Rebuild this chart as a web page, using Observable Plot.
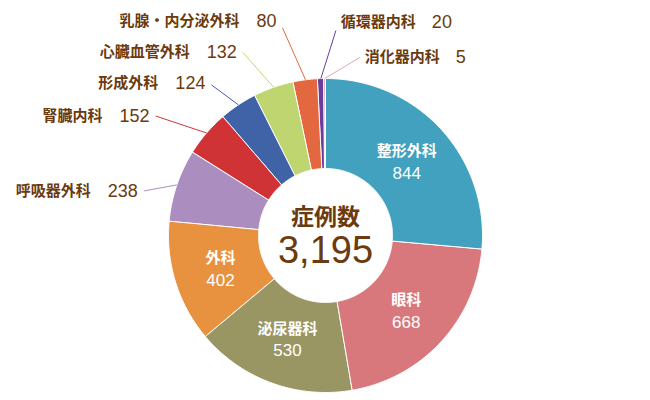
<!DOCTYPE html>
<html>
<head>
<meta charset="utf-8">
<script src="https://cdn.jsdelivr.net/npm/d3@7"></script>
<script src="https://cdn.jsdelivr.net/npm/@observablehq/plot@0.6"></script>
<style>
  html, body { margin: 0; padding: 0; background: #ffffff; }
  #chart svg { display: block; }
</style>
</head>
<body>
<div id="chart"></div>
<script>
// ---- data ----
const departments = ["整形外科", "眼科", "泌尿器科", "外科", "呼吸器外科", "腎臓内科", "形成外科", "心臓血管外科", "乳腺・内分泌外科", "循環器内科", "消化器内科"];
const cases = [844, 668, 530, 402, 238, 152, 124, 132, 80, 20, 5];
const sliceColors = ["#42a1bf", "#d9787c", "#9a9664", "#e8923f", "#ab8ebf", "#cf3335", "#4062a6", "#bfd56f", "#e3683f", "#6a3c9e", "#e3a5b4"];
const centerTitle = "症例数";
const insideLabeled = ["整形外科", "眼科", "泌尿器科", "外科"];

// ---- layout (pixel units, donut centre at 0,0) ----
const R_OUT = 157, R_IN = 67, R_LABEL = 110;
// leader-line end offsets from the slice's outer-edge midpoint, plus label vertical shift
const calloutLayout = {
  "呼吸器外科": [-33, 6, 0],
  "腎臓内科": [-51, -17, 0],
  "形成外科": [-27, -20, -2],
  "心臓血管外科": [-31, -35, 0],
  "乳腺・内分泌外科": [-23, -52, -7],
  "循環器内科": [15, -48, -8],
  "消化器内科": [35, -21, 0]
};
const brown = "#6b3a0e";
const jpFont = "'Noto Sans CJK JP', 'Noto Sans', sans-serif";
const numFont = "'Liberation Sans', Arial, sans-serif";

const total = d3.sum(cases);
const arcs = d3.pie().sort(null).value(d => d)(cases);
const pt = (a, r) => [r * Math.sin(a), -r * Math.cos(a)];

// slice polygons
const slicePts = [];
arcs.forEach((a, i) => {
  const n = Math.max(2, Math.ceil((a.endAngle - a.startAngle) / 0.01));
  for (let k = 0; k <= n; k++) {
    const t = a.startAngle + (a.endAngle - a.startAngle) * k / n;
    const [x, y] = pt(t, R_OUT);
    slicePts.push({name: departments[i], x, y});
  }
  for (let k = n; k >= 0; k--) {
    const t = a.startAngle + (a.endAngle - a.startAngle) * k / n;
    const [x, y] = pt(t, R_IN);
    slicePts.push({name: departments[i], x, y});
  }
});

const mid = i => (arcs[i].startAngle + arcs[i].endAngle) / 2;

// inside labels
const inside = insideLabeled.map(name => {
  const i = departments.indexOf(name);
  const [x, y] = pt(mid(i), R_LABEL);
  return {name, value: String(cases[i]), x, y};
});

// text measuring
const ctx = document.createElement("canvas").getContext("2d");
const measure = (txt, font) => { ctx.font = font; return ctx.measureText(txt).width; };

const callouts = departments.filter(d => calloutLayout[d]).map(name => {
  const i = departments.indexOf(name);
  const [x1, y1] = pt(mid(i), R_OUT);
  const [dx, dy, tdy] = calloutLayout[name];
  const x2 = x1 + dx, y2 = y1 + dy;
  const value = String(cases[i]);
  const vW = measure(value, `18px ${numFont}`);
  const nW = measure(name, `bold 15px ${jpFont}`);
  const left = x2 < 0;
  let nameX, valueX;
  if (left) {
    valueX = x2 - 6;            // text-anchor end
    nameX = valueX - vW - 17;   // text-anchor end
  } else {
    nameX = x2 + 5;             // text-anchor start
    valueX = nameX + nW + 16;   // text-anchor start
  }
  return {name, value, x1, y1, x2, y2, ty: y2 + tdy, nameX, valueX, anchor: left ? "end" : "start"};
});

const plot = Plot.plot({
  width: 650,
  height: 400,
  margin: 0,
  style: {background: "#ffffff", overflow: "visible"},
  x: {domain: [-325, 325], range: [0, 650], axis: null},
  y: {domain: [-235, 165], range: [0, 400], axis: null},
  color: {domain: departments, range: sliceColors},
  marks: [
    Plot.line(slicePts, {x: "x", y: "y", z: "name", fill: "name", stroke: "white", strokeWidth: 1, curve: "linear-closed"}),
    Plot.link(callouts, {x1: "x1", y1: "y1", x2: "x2", y2: "y2", stroke: "name", strokeWidth: 1}),
    // callout names & values
    Plot.text(callouts.filter(d => d.anchor === "end"), {x: "nameX", y: "ty", text: "name", textAnchor: "end", fill: brown, fontSize: 15, fontWeight: "bold", fontFamily: jpFont}),
    Plot.text(callouts.filter(d => d.anchor === "end"), {x: "valueX", y: "ty", text: "value", textAnchor: "end", fill: brown, fontSize: 18, fontFamily: numFont}),
    Plot.text(callouts.filter(d => d.anchor === "start"), {x: "nameX", y: "ty", text: "name", textAnchor: "start", fill: brown, fontSize: 15, fontWeight: "bold", fontFamily: jpFont}),
    Plot.text(callouts.filter(d => d.anchor === "start"), {x: "valueX", y: "ty", text: "value", textAnchor: "start", fill: brown, fontSize: 18, fontFamily: numFont}),
    // inside labels
    Plot.text(inside, {x: "x", y: "y", text: "name", dy: -10, fill: "white", fontSize: 15, fontWeight: "bold", fontFamily: jpFont}),
    Plot.text(inside, {x: "x", y: "y", text: "value", dy: 12, fill: "white", fontSize: 17, fontFamily: numFont}),
    // centre
    Plot.text([centerTitle], {x: () => 0, y: () => -18, text: d => d, fill: brown, fontSize: 23, fontWeight: "bold", fontFamily: jpFont}),
    Plot.text([total], {x: () => 0, y: () => 15, text: d => d3.format(",")(d), fill: brown, fontSize: 38, fontFamily: numFont})
  ]
});
document.getElementById("chart").appendChild(plot);
</script>
</body>
</html>
